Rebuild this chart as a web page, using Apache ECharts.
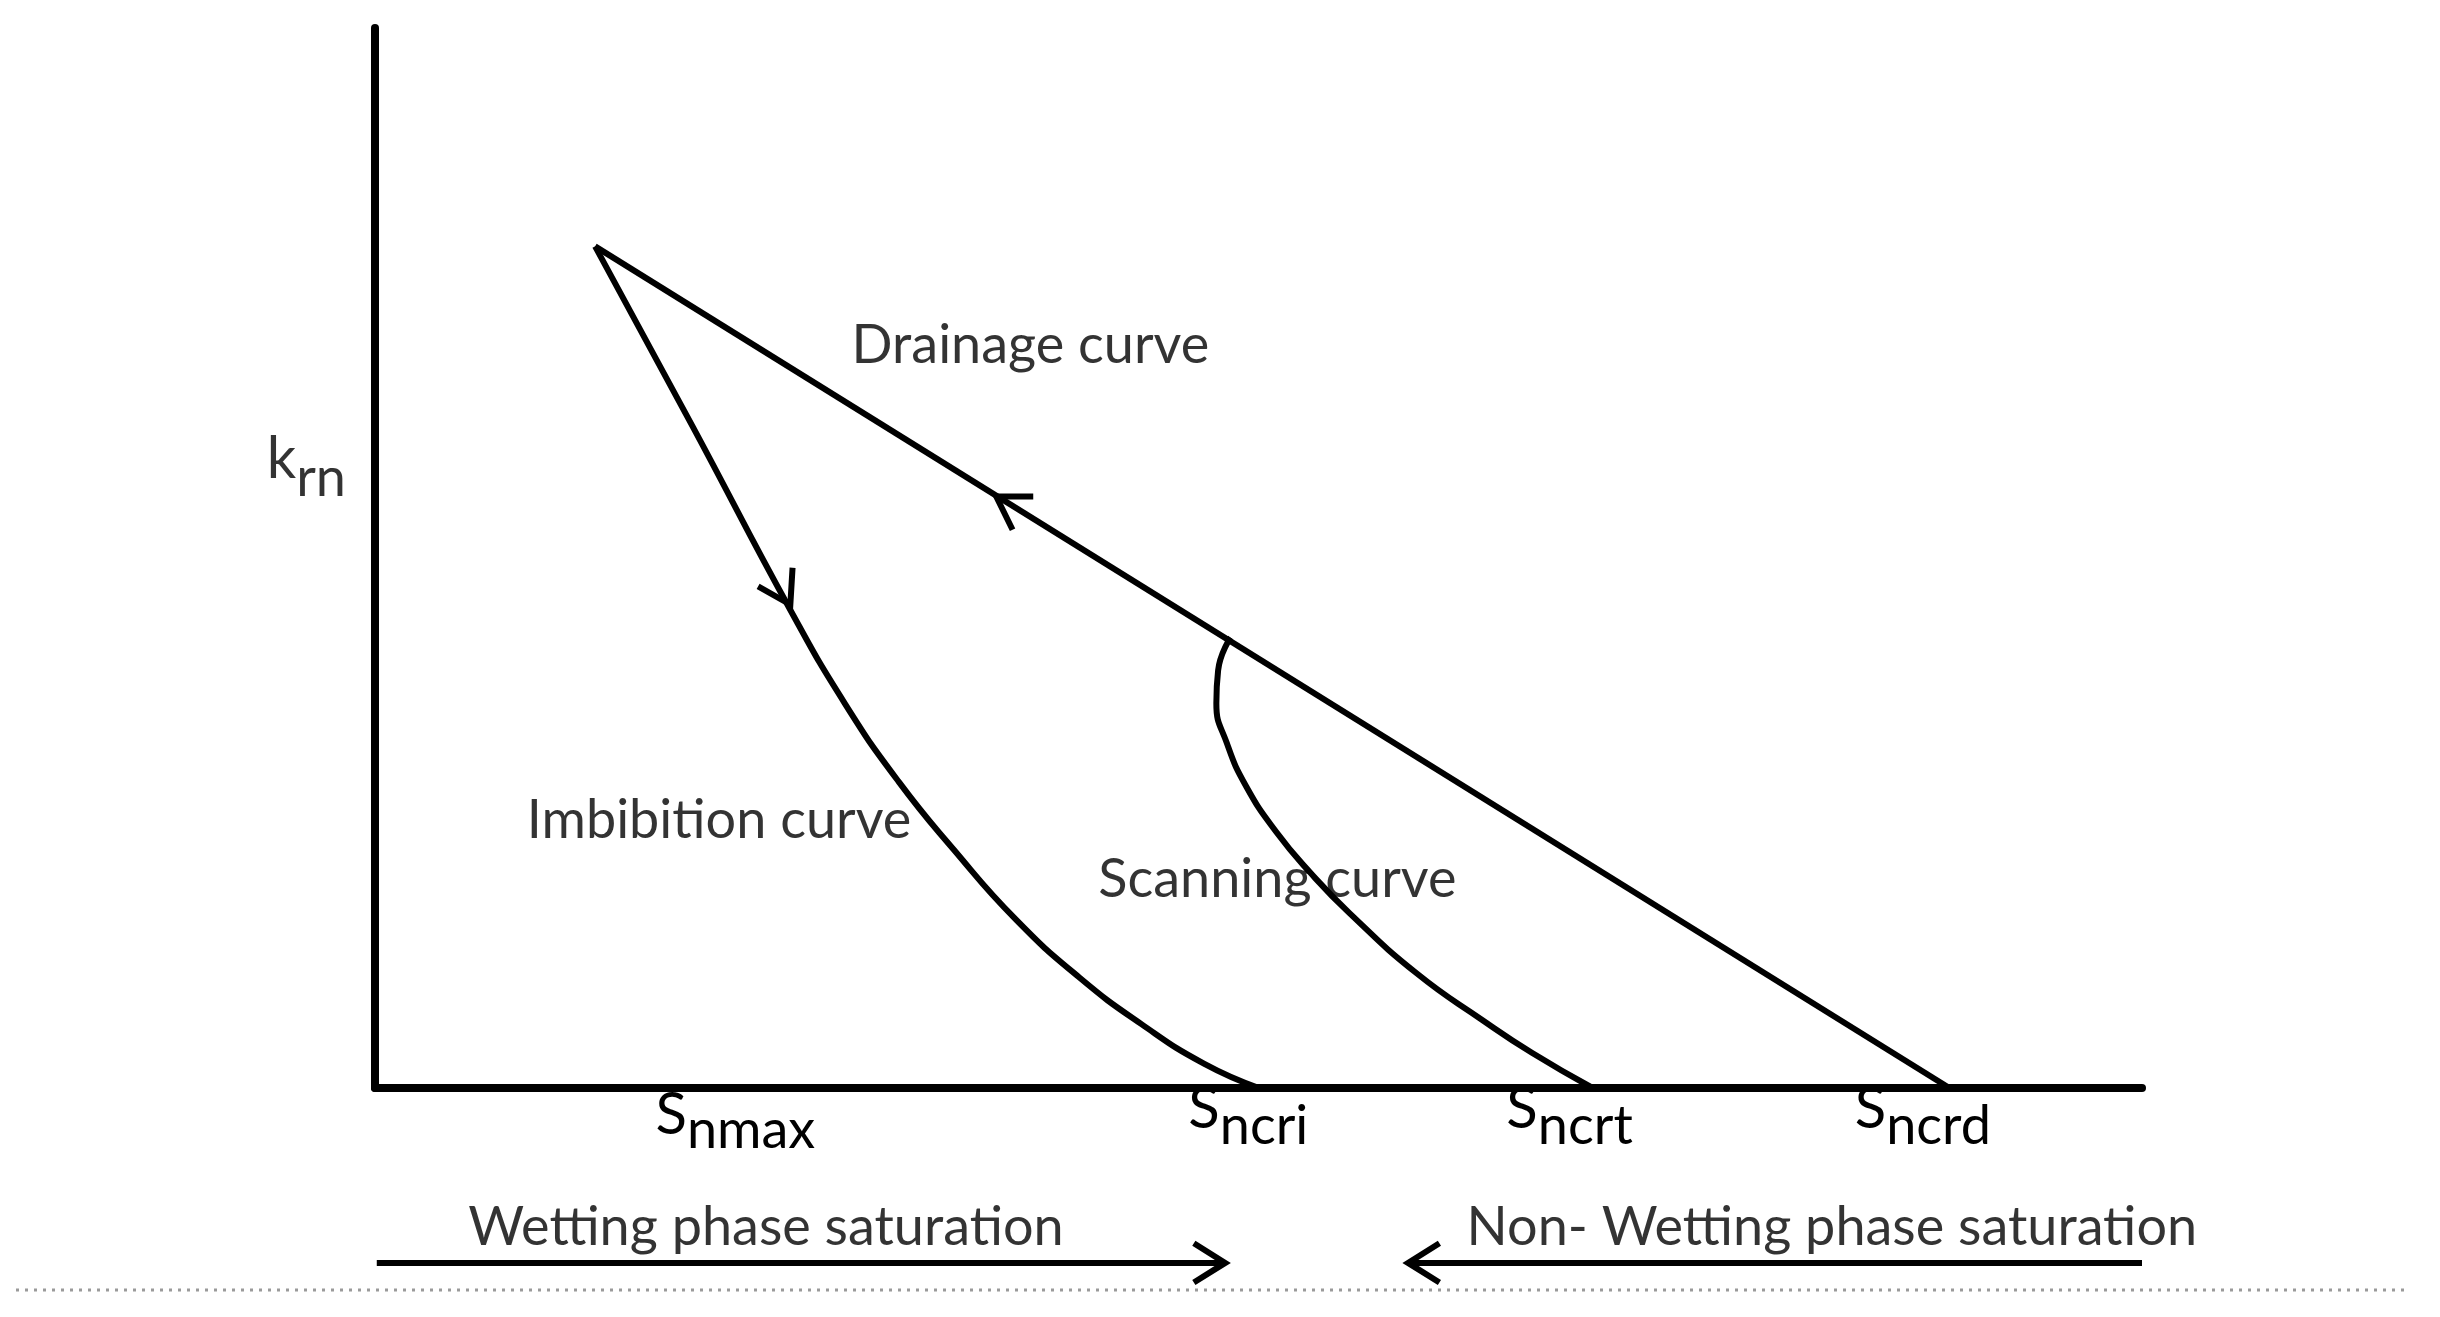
<!DOCTYPE html>
<html>
<head>
<meta charset="utf-8">
<script src="https://cdn.jsdelivr.net/npm/echarts@6/dist/echarts.min.js"></script>
<style>
html,body{margin:0;padding:0;background:#fff;}
#chart{width:2440px;height:1317px;}
</style>
</head>
<body>
<div id="chart"></div>
<script>
// ---- data (saturation axis, relative permeability axis 0..100) ----
const drainageX = [12.4, 88.7];
const drainageY = [79.4, 0];

const imbibitionX = [12.4, 17.9, 23.4, 26.5, 29.5, 32.6, 36.1, 39.7, 43.2, 46.7, 49.8];
const imbibitionY = [79.4, 62.4, 45.1, 36.2, 28.9, 22.5, 15.9, 10.4, 6.0, 2.3, 0];

const scanningX = [48.2, 47.5, 47.4, 48.0, 49.1, 50.8, 52.7, 54.9, 58.7, 62.4, 65.2, 68.6];
const scanningY = [42.5, 39.4, 36.3, 32.5, 28.4, 24.1, 20.3, 16.5, 10.8, 6.4, 3.3, 0];

// x-axis tick labels: S with subscripts
const tickSubscripts = ['nmax', 'ncri', 'ncrt', 'ncrd'];
const tickValues = [20.3, 49.2, 67.3, 87.2];
const xMax = 99.55;

// annotation texts and their anchor (data coords)
const annotationTexts = ['Drainage curve', 'Imbibition curve', 'Scanning curve',
  'Wetting phase saturation', 'Non- Wetting phase saturation'];
const annotationX = [26.85, 8.55, 40.75, 5.25, 61.5];
const annotationY = [70.0, 25.2, 19.7, -13.2, -13.2];

const yLabelMain = 'k';
const yLabelSub = 'rn';
const yLabelAt = [-6.1, 58.5];

// direction arrows: tip and a point behind the tip
const arrowTipX = [35.0, 23.4, 47.9, 58.2];
const arrowTipY = [55.8, 45.6, -16.5, -16.5];
const arrowBackX = [88.7, 12.4, 0, 100];
const arrowBackY = [0, 79.4, -16.5, -16.5];

// saturation direction shafts below axis
const shaftFromX = [0.1, xMax];
const shaftToX = [47.9, 58.2];
const shaftY = -16.5;

// ---- build ----
const zip = (xs, ys) => xs.map((x, i) => [x, ys[i]]);
const FONT = 'Lato';
const FS = 54;
const FS_BIG = 58;

const chart = echarts.init(document.getElementById('chart'), null, {renderer: 'canvas'});

const curveStyle = {color: '#000', width: 6};

const option = {
  backgroundColor: '#fff',
  animation: false,
  grid: {left: 375, top: 28, right: 298, bottom: 229},
  xAxis: {
    type: 'value', min: 0, max: xMax,
    axisLine: {show: true, onZero: false, lineStyle: {color: '#000', width: 8}},
    axisTick: {show: false},
    splitLine: {show: false},
    axisLabel: {
      show: true,
      customValues: tickValues,
      margin: 0,
      formatter: function (v) {
        const i = tickValues.indexOf(v);
        if (i < 0) return '';
        return i === 0 ? '{s0|S}{b0|' + tickSubscripts[i] + '}' : '{s|S}{b|' + tickSubscripts[i] + '}';
      },
      rich: {
        s: {fontFamily: FONT, fontSize: FS_BIG, lineHeight: FS_BIG, color: '#000', padding: [0, 0, 16, 0]},
        b: {fontFamily: FONT, fontSize: FS, lineHeight: FS, color: '#000', padding: [20, 0, 0, 0]},
        s0: {fontFamily: FONT, fontSize: FS_BIG, lineHeight: FS_BIG, color: '#000', padding: [10, 0, 14, 0]},
        b0: {fontFamily: FONT, fontSize: FS, lineHeight: FS, color: '#000', padding: [28, 0, 0, 0]}
      }
    }
  },
  yAxis: {
    type: 'value', min: 0, max: 100,
    axisLine: {show: true, onZero: false, lineStyle: {color: '#000', width: 8}},
    axisTick: {show: false},
    splitLine: {show: false},
    axisLabel: {show: false}
  },
  graphic: [{
    type: 'line',
    shape: {x1: 16, y1: 1290, x2: 2408, y2: 1290},
    style: {stroke: '#9a9a9a', lineWidth: 3, lineDash: [3, 6]}
  }],
  series: [
    {name: 'Drainage curve', type: 'line', data: zip(drainageX, drainageY),
      symbol: 'none', lineStyle: curveStyle, clip: false},
    {name: 'Imbibition curve', type: 'line', data: zip(imbibitionX, imbibitionY),
      symbol: 'none', smooth: 0.5, lineStyle: curveStyle, clip: false},
    {name: 'Scanning curve', type: 'line', data: zip(scanningX, scanningY),
      symbol: 'none', smooth: 0.5, lineStyle: curveStyle, clip: false},
    {name: 'shaft1', type: 'line', data: [[shaftFromX[0], shaftY], [shaftToX[0], shaftY]],
      symbol: 'none', lineStyle: {color: '#000', width: 6}, clip: false},
    {name: 'shaft2', type: 'line', data: [[shaftFromX[1], shaftY], [shaftToX[1], shaftY]],
      symbol: 'none', lineStyle: {color: '#000', width: 6}, clip: false},
    {
      name: 'arrows', type: 'custom', clip: false,
      data: arrowTipX.map((x, i) => [x, arrowTipY[i], arrowBackX[i], arrowBackY[i]]),
      renderItem: function (params, api) {
        const p = api.coord([api.value(0), api.value(1)]);
        const q = api.coord([api.value(2), api.value(3)]);
        const ang = Math.atan2(q[1] - p[1], q[0] - p[0]);
        const L = 37, s = 32 * Math.PI / 180;
        const a1 = [p[0] + L * Math.cos(ang + s), p[1] + L * Math.sin(ang + s)];
        const a2 = [p[0] + L * Math.cos(ang - s), p[1] + L * Math.sin(ang - s)];
        return {
          type: 'polyline',
          shape: {points: [a1, p, a2]},
          style: {stroke: '#000', lineWidth: 6, fill: null, lineJoin: 'miter'}
        };
      }
    },
    {
      name: 'annotations', type: 'scatter', symbolSize: 0, clip: false, silent: true,
      data: annotationTexts.map((t, i) => ({value: [annotationX[i], annotationY[i]], name: t})),
      label: {
        show: true, position: [0, 0], align: 'left', verticalAlign: 'middle',
        formatter: '{b}', fontFamily: FONT, fontSize: FS, color: '#000'
      }
    },
    {
      name: 'ylabel', type: 'scatter', symbolSize: 0, clip: false, silent: true,
      data: [{value: yLabelAt}],
      label: {
        show: true, position: [0, 0], align: 'left', verticalAlign: 'middle',
        formatter: '{k|' + yLabelMain + '}{r|' + yLabelSub + '}',
        rich: {
          k: {fontFamily: FONT, fontSize: FS_BIG, lineHeight: FS_BIG, color: '#000', padding: [0, 0, 18, 0]},
          r: {fontFamily: FONT, fontSize: FS, lineHeight: FS, color: '#000', padding: [22, 0, 0, 0]}
        }
      }
    }
  ]
};
chart.setOption(option);
</script>
</body>
</html>
